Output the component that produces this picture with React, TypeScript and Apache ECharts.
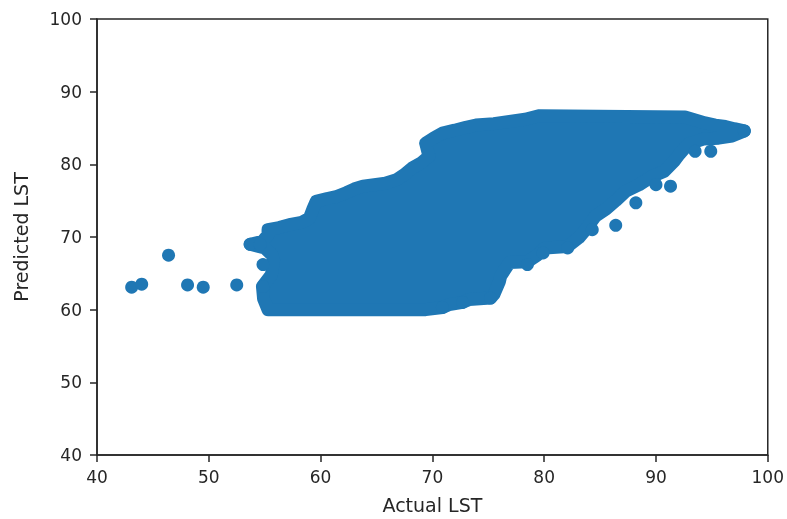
import { useEffect, useRef } from "react";
import * as echarts from "echarts";

const xTicks = [40, 50, 60, 70, 80, 90, 100];
const yTicks = [40, 50, 60, 70, 80, 90, 100];
const xName = "Actual LST";
const yName = "Predicted LST";

// Outline (marker centres) of the dense cloud of points
const blobOutline: [number, number][] = [
  [55.3, 60.0], [54.9, 61.5], [54.8, 63.2], [55.6, 64.8], [55.8, 66.8], [55.6, 67.6],
  [55.0, 68.5], [53.7, 69.0], [54.8, 69.4], [55.3, 70.3], [55.3, 71.0], [56.3, 71.3],
  [57.2, 71.7], [58.3, 72.0], [59.0, 72.6], [59.3, 73.8], [59.6, 74.9], [60.6, 75.3],
  [61.5, 75.6], [62.3, 76.1], [63.0, 76.6], [63.8, 77.0], [64.8, 77.2], [65.8, 77.4],
  [66.8, 77.9], [67.5, 78.6], [68.2, 79.5], [69.0, 80.2], [69.7, 81.1], [69.4, 82.9],
  [70.1, 83.6], [70.9, 84.3], [72.0, 84.7], [73.0, 85.1], [73.9, 85.4], [75.5, 85.6],
  [76.9, 85.9], [78.3, 86.2], [79.6, 86.7], [92.6, 86.5], [93.5, 86.1], [94.4, 85.7],
  [95.3, 85.4], [96.2, 85.2], [97.0, 84.9], [97.9, 84.6], [96.8, 83.9], [95.6, 83.6],
  [94.3, 83.5], [92.9, 82.8], [92.1, 81.4], [91.6, 80.4], [90.7, 79.0], [89.6, 78.3],
  [88.5, 77.2], [87.3, 76.3], [86.4, 75.0], [85.5, 73.8], [84.6, 72.9], [83.7, 71.0],
  [83.1, 69.9], [82.1, 68.7], [80.1, 68.5], [79.3, 67.4], [78.5, 66.6], [76.9, 66.5],
  [76.1, 64.6], [76.0, 63.9], [75.5, 62.1], [75.2, 61.6], [73.3, 61.4],
  [72.7, 61.0], [71.5, 60.7], [70.9, 60.3], [69.4, 60.0],
];

// Individually visible markers
const scatterPoints: [number, number][] = [
  [43.1, 63.1], [44.0, 63.5], [46.4, 67.5], [48.1, 63.4], [49.5, 63.1], [52.5, 63.4],
  [54.85, 66.2], [54.85, 63.2], [53.7, 69.0], [54.6, 69.0], [97.9, 84.6],
  [93.5, 81.8], [94.9, 81.8], [90.0, 77.2], [91.3, 77.0], [88.2, 74.7], [86.4, 71.6],
  [84.3, 71.0], [82.1, 68.5], [79.9, 67.8], [78.5, 66.2], [75.2, 61.6], [72.7, 61.0],
  [70.9, 60.3],
];

const COLOR = "#1f77b4";
const INK = "#262626";
const FONT = "DejaVu Sans";
const MARKER = 13;

export default function App() {
  const ref = useRef<HTMLDivElement>(null);
  useEffect(() => {
    const chart = echarts.init(ref.current!, undefined, { renderer: "svg" });
    const axisCommon = {
      type: "value",
      min: 40,
      max: 100,
      interval: 10,
      nameLocation: "middle",
      nameTextStyle: { fontFamily: FONT, fontSize: 19, color: INK },
      axisLine: { show: true, onZero: false, lineStyle: { color: INK, width: 1.5 } },
      axisTick: { show: true, length: 7, lineStyle: { color: INK, width: 1.5 } },
      splitLine: { show: false },
    };
    chart.setOption({
      animation: false,
      grid: {
        left: 97, right: 18, top: 19, bottom: 63,
        show: true, borderColor: INK, borderWidth: 1.5, backgroundColor: "transparent",
      },
      xAxis: {
        ...axisCommon,
        name: xName,
        nameGap: 40,
        axisLabel: {
          fontFamily: FONT, fontSize: 17, color: INK, margin: 13,
          formatter: (v: number) => (xTicks.includes(v) ? String(v) : ""),
        },
      },
      yAxis: {
        ...axisCommon,
        name: yName,
        nameGap: 67,
        axisLabel: {
          fontFamily: FONT, fontSize: 17, color: INK, margin: 15,
          formatter: (v: number) => (yTicks.includes(v) ? String(v) : ""),
        },
      },
      series: [
        {
          type: "custom",
          silent: true,
          data: blobOutline,
          renderItem: (params: any, api: any) => {
            if (params.dataIndex !== 0) return null;
            const pts = blobOutline.map((p) => api.coord(p));
            return {
              type: "polygon",
              shape: { points: pts },
              style: { fill: COLOR, stroke: COLOR, lineWidth: MARKER, lineJoin: "round" },
            };
          },
        },
        {
          type: "scatter",
          data: scatterPoints,
          symbol: "circle",
          symbolSize: MARKER,
          itemStyle: { color: COLOR, opacity: 1 },
        },
      ],
    });
    return () => chart.dispose();
  }, []);
  return (
    <div
      ref={ref}
      style={{ position: "fixed", left: 0, top: 0, width: 787, height: 519 }}
    />
  );
}
